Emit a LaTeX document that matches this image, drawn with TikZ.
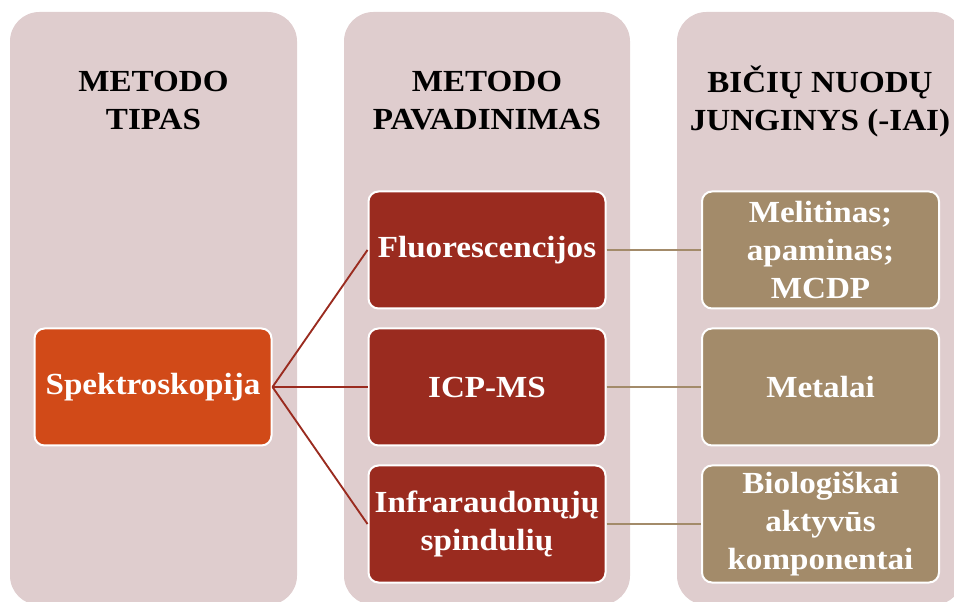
\documentclass[tikz,border=0pt]{standalone}
\usepackage{fontspec}
\setmainfont{Liberation Serif}[FakeStretch=1.08]
\definecolor{colbg}{RGB}{223,205,206}
\definecolor{spekfill}{RGB}{209,74,24}
\definecolor{metfill}{RGB}{154,43,31}
\definecolor{jungfill}{RGB}{163,139,106}
\begin{document}
\begin{tikzpicture}[x=.75pt,y=-.75pt,font=\fontsize{23}{28.5}\selectfont\bfseries,
  box/.style={draw=white,line width=1.5pt,rounded corners=7.5pt,minimum width=177.75pt,minimum height=87.75pt,text=white,align=center,inner sep=2pt}]
\useasboundingbox (0,0) rectangle (954,602);
\clip (0,0) rectangle (954,602);
\path[fill=colbg,rounded corners=22pt] (10,12) rectangle (297,605);
\path[fill=colbg,rounded corners=22pt] (344,12) rectangle (630,605);
\path[fill=colbg,rounded corners=22pt] (677,12) rectangle (963,605);
\node[align=center] (tipas) at (153.5,101) {METODO\\TIPAS};
\node[align=center] (pavad) at (487,101) {METODO\\PAVADINIMAS};
\node[align=center] (jungin) at (820,101) {BIČIŲ NUODŲ\\JUNGINYS (-IAI)};
\node[box,fill=spekfill] (spek) at (153,387) {Spektroskopija};
\node[box,fill=metfill] (fluor) at (487,250) {Fluorescencijos};
\node[box,fill=metfill] (icp) at (487,387) {ICP-MS};
\node[box,fill=metfill] (infra) at (487,524) {Infraraudonųjų\\spindulių};
\node[box,fill=jungfill] (melit) at (820.5,250) {Melitinas;\\apaminas;\\MCDP};
\node[box,fill=jungfill] (metal) at (820.5,387) {Metalai};
\node[box,fill=jungfill] (bio) at (820.5,524) {Biologiškai\\aktyvūs\\komponentai};
\draw[metfill,line width=1.4pt] (spek.east) -- (fluor.west);
\draw[metfill,line width=1.4pt] (spek.east) -- (icp.west);
\draw[metfill,line width=1.4pt] (spek.east) -- (infra.west);
\draw[jungfill,line width=1.4pt] (fluor.east) -- (melit.west);
\draw[jungfill,line width=1.4pt] (icp.east) -- (metal.west);
\draw[jungfill,line width=1.4pt] (infra.east) -- (bio.west);
\end{tikzpicture}
\end{document}
